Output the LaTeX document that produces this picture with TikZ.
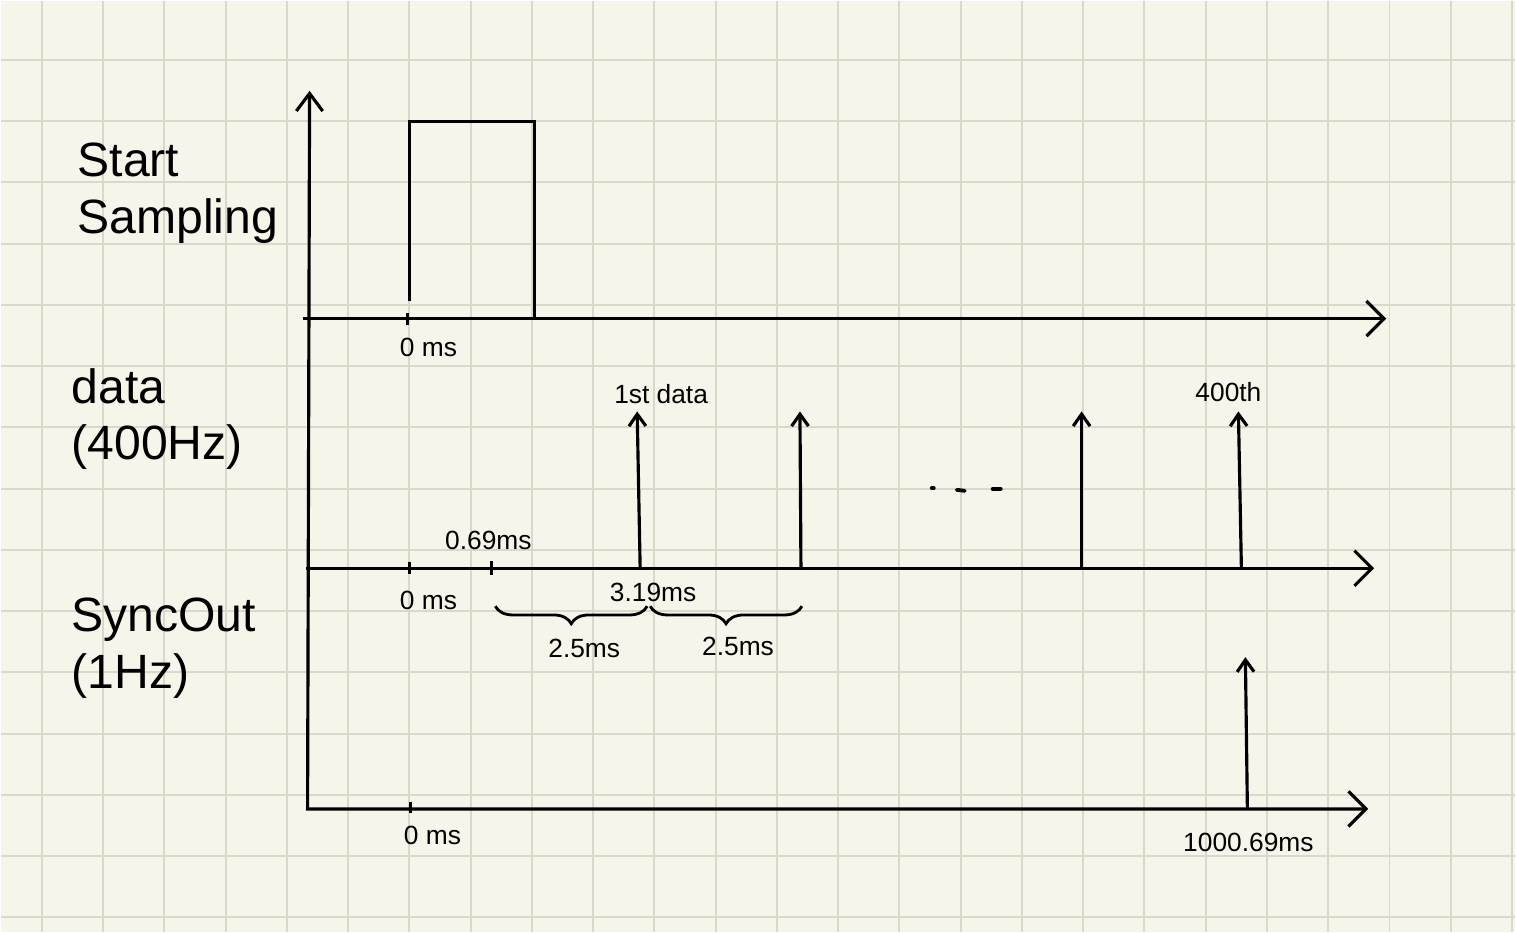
\documentclass[tikz,border=0pt]{standalone}
\usepackage{fontspec}
\setmainfont{Liberation Sans}
\usepackage{tikz}
\usetikzlibrary{arrows.meta,decorations.pathreplacing}
\definecolor{paper}{HTML}{F7F5EA}
\definecolor{gridline}{HTML}{DAD8CA}
\tikzset{
  gridrule/.style={draw=gridline, line width=0.55pt},
  axisline/.style={line width=0.9pt, -{Straight Barb[length=5pt, width=10pt, line width=0.9pt]}},
  valueaxis/.style={line width=0.9pt, {Straight Barb[length=5pt, width=7.5pt, line width=0.9pt]}-{Straight Barb[length=5pt, width=10pt, line width=0.9pt]}},
  pulsearrow/.style={line width=0.9pt, -{Straight Barb[length=3.4pt, width=4.8pt, line width=0.9pt]}},
  waveline/.style={line width=0.9pt},
  tickmark/.style={line width=0.9pt},
  rowlabel/.style={font=\fontsize{13.7pt}{16.2pt}\selectfont, align=left, anchor=north west, inner sep=0pt},
  handlabel/.style={font=\fontsize{7.5pt}{9pt}\selectfont, inner sep=0pt},
  spanbrace/.style={line width=0.8pt, decorate, decoration={brace, mirror, amplitude=5pt}},
  gapdot/.style={line width=1.1pt, line cap=round}
}

\begin{document}
\begin{tikzpicture}[x=0.01cm, y=-0.01cm]
\fill[paper] (0,0) rectangle (1516,932);
\foreach \k in {0,...,24}
  \draw[gridrule] ({41+61.33*\k},0) -- ({41+61.33*\k},932);
\foreach \k in {0,...,14}
  \draw[gridrule] (0,{59+61.33*\k}) -- (1516,{59+61.33*\k});

\coordinate (ytop) at (309,90);
\coordinate (origin) at (307,809);
\coordinate (syncend) at (1369,809);
\coordinate (sampstart) at (302,318);
\coordinate (sampend) at (1387,318);
\coordinate (datastart) at (305,568);
\coordinate (dataend) at (1375,568);

\node[rowlabel] (samplabel) at (76,141.5) {Start\\Sampling};
\node[rowlabel] (datalabel) at (70,367) {data\\(400Hz)};
\node[rowlabel] (synclabel) at (70,597) {SyncOut\\(1Hz)};

\draw[valueaxis] (ytop) -- (origin) -- (syncend);
\draw[axisline] (sampstart) -- (sampend);
\draw[axisline] (datastart) -- (dataend);

\draw[waveline] (409,300) -- (409,121) -- (534,121) -- (534,318);
\draw[tickmark] (407,312) -- (407,324);
\node[handlabel] (samp0) at (428,347) {0 ms};

\draw[tickmark] (409,562) -- (409,574);
\draw[tickmark] (491,561) -- (491,575);
\node[handlabel] (data0) at (428,600) {0 ms};
\node[handlabel] (data069) at (488,540) {0.69ms};
\node[handlabel] (data319) at (653,592) {3.19ms};

\foreach \px/\tx in {640/637, 801/800, 1082/1082, 1242/1239}
  \draw[pulsearrow] (\px,568) -- (\tx,411);
\node[handlabel] (firstdata) at (661,394) {1st data};
\node[handlabel] (lastdata) at (1229,392) {400th};

\draw[gapdot] (932,488) -- (934,488);
\draw[gapdot] (957,489.5) -- (965,490.5);
\draw[gapdot] (993,488.5) -- (1001,488.5);

\draw[spanbrace] (495,606) -- (647,606);
\draw[spanbrace] (650,606) -- (802,606);
\node[handlabel] (period1) at (584,648) {2.5ms};
\node[handlabel] (period2) at (738,646) {2.5ms};

\draw[tickmark] (410,802) -- (410,813);
\draw[pulsearrow] (1248,809) -- (1246,657);
\node[handlabel] (sync0) at (432,836) {0 ms};
\node[handlabel] (sync1000) at (1249,843) {1000.69ms};
\end{tikzpicture}
\end{document}
